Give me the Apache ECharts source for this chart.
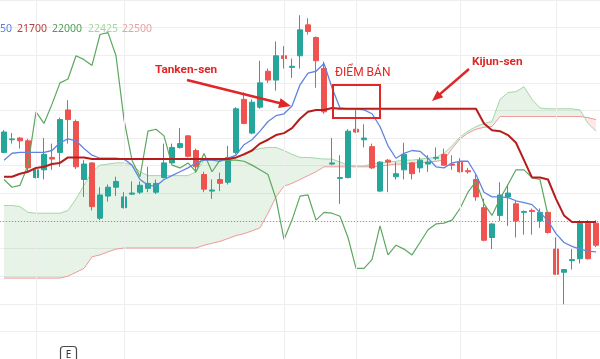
<!DOCTYPE html>
<html><head><meta charset="utf-8">
<script src="https://cdn.jsdelivr.net/npm/echarts@6/dist/echarts.min.js"></script>
<style>html,body{margin:0;padding:0;background:#fff}#c{width:600px;height:359px}</style>
</head><body><div id="c"></div>
<script>
// bar numbers (x categories)
const categories = Array.from({length: 75}, (_, i) => String(i + 1));
// candles: [open, close, low, high]
const candles = [
[22148,22222,22145,22229],[22194,22197,22180,22218],[22200,22190,22162,22204],[22190,22092,22075,22197],
[22057,22085,22054,22088],[22085,22141,22050,22200],[22130,22124,22085,22180],[22148,22267,22096,22274],
[22302,22267,22180,22337],[22260,22096,22088,22267],[22050,22106,21987,22120],[22110,21952,21938,22113],
[21910,21994,21903,22022],[21990,22022,21970,22032],[22022,22043,21990,22060],[21948,21987,21945,22004],
[21997,22001,21994,22043],[22004,22029,21997,22043],[22018,22036,22004,22096],[22004,22036,21997,22050],
[22057,22110,22054,22180],[22110,22166,22106,22180],[22166,22180,22162,22236],[22208,22134,22130,22211],
[22155,22096,22075,22162],[22068,22015,22004,22078],[22008,22012,21980,22050],[22050,22036,22008,22075],
[22040,22130,22032,22172],[22148,22306,22141,22312],[22340,22253,22250,22365],[22218,22330,22214,22340],
[22312,22400,22306,22480],[22442,22410,22400,22452],[22410,22498,22372,22550],[22498,22488,22452,22533],
[22456,22460,22418,22488],[22498,22592,22452,22645],[22610,22586,22575,22634],[22564,22480,22382,22568],
[22452,22295,22288,22477],[22106,22110,22102,22200],[22054,22057,21962,22138],[22057,22225,22054,22232],
[22232,22222,22218,22302],[22194,22200,22166,22250],[22169,22092,22088,22180],[22008,22113,22004,22116],
[22120,22113,22004,22124],[22060,22071,22050,22113],[22085,22141,22050,22183],[22110,22071,22050,22113],
[22092,22120,22075,22130],[22106,22113,22078,22138],[22127,22130,22120,22166],[22141,22102,22099,22162],
[22106,22102,22085,22138],[22113,22078,22075,22127],[22082,22078,22071,22092],[22050,21987,21973,22068],
[21948,21830,21826,21980],[21840,21889,21798,21892],[21920,21994,21900,22040],[21987,22001,21882,22032],
[21962,21900,21840,21973],[21931,21934,21850,21938],[21938,21934,21850,21945],[21900,21931,21875,21945],
[21931,21858,21854,21934],[21798,21707,21704,21840],[21714,21724,21598,21725],[21756,21760,21724,21798],
[21763,21892,21746,21903],[21892,21763,21760,21903],[21892,21812,21805,21903]
];
// Tenkan-sen (conversion line)
const tenkan = [22120,22145,22148,22148,22148,22148,22155,22183,22197,22190,
22162,22138,22127,22127,22127,22124,22102,22050,22029,22026,
22050,22064,22078,22092,22110,22120,22120,22116,22127,22138,
22176,22194,22225,22260,22281,22288,22316,22393,22435,22442,
22470,22382,22309,22306,22306,22302,22288,22242,22172,22127,
22145,22155,22152,22127,22096,22092,22110,22116,22116,22068,
22004,21987,21987,21984,21973,21966,21959,21931,21900,21854,
21822,21808,21798,21791,21788];
// Kijun-sen (base line)
const kijun = [22060,22060,22071,22078,22092,22096,22106,22110,22130,22130,
22130,22124,22124,22124,22124,22124,22124,22124,22124,22124,
22124,22124,22124,22124,22124,22124,22124,22124,22124,22130,
22141,22155,22180,22194,22211,22218,22236,22270,22295,22302,
22302,22309,22306,22306,22306,22306,22306,22306,22306,22306,
22306,22306,22306,22306,22306,22306,22306,22306,22306,22306,
22253,22228,22225,22211,22183,22120,22057,22057,22050,21980,
21920,21896,21896,21896,21896];
// Senkou span A (lead 1)
const spanA = [21956,21956,21952,21931,21928,21928,21928,21928,21938,21980,
22029,22078,22102,22106,22110,22110,22102,22078,22064,22064,
22064,22064,22064,22064,22078,22120,22120,22120,22120,22127,
22145,22155,22162,22166,22166,22155,22141,22130,22130,22127,
22124,22124,22113,22102,22099,22099,22106,22110,22113,22116,
22120,22120,22124,22127,22130,22145,22172,22204,22225,22242,
22253,22260,22340,22365,22368,22386,22340,22309,22306,22306,
22306,22306,22302,22253,22225];
// Senkou span B (lead 2)
const spanB = [21693,21693,21693,21693,21693,21693,21693,21693,21700,21714,
21728,21770,21777,21788,21798,21802,21802,21802,21802,21802,
21802,21802,21802,21802,21802,21812,21819,21826,21836,21847,
21854,21864,21875,21928,21987,22026,22036,22050,22064,22078,
22096,22096,22096,22096,22096,22096,22096,22099,22102,22106,
22106,22110,22110,22113,22116,22120,22162,22197,22218,22232,
22239,22242,22278,22278,22278,22278,22278,22278,22278,22278,
22278,22278,22278,22274,22267];
// Chikou span (lagging span)
const chikou = [22050,22022,22029,22102,22295,22253,22323,22400,22414,22498,
22484,22463,22575,22582,22498,22267,22120,22060,22225,22232,
22208,22102,22092,22110,22078,22144,22078,22120,22120,22120,
22116,22102,22085,22068,21980,21833,21903,21990,21994,21903,
21931,21928,21917,21840,21728,21728,21760,21882,21777,21812,
21798,21777,21822,21868,21889,21892,21903,21945,22004,22043,
21962,21920,21980,22032,22085,22085,22057,22050,21920,null,
null,null,null,null,null];
const lastPrice = 21900;
const timeGridBars = ['5','16','36','45','58','70'];
const legendValues = ['50','21700','22000','22425','22500'];

const GREEN_FILL = 'rgba(67,160,71,0.13)';
const RED_FILL = 'rgba(244,67,54,0.12)';

function cloudRender(params, api) {
  if (params.dataIndex !== 0) return null;
  const n = categories.length;
  const polys = [];
  let curA = [], curB = [], sign = null;
  for (let i = 0; i < n; i++) {
    const d = spanA[i] - spanB[i];
    const s = d >= 0 ? 1 : -1;
    const pa = api.coord([i, spanA[i]]), pb = api.coord([i, spanB[i]]);
    if (sign !== null && s !== sign) {
      const dp = spanA[i - 1] - spanB[i - 1];
      const t = dp / (dp - d);
      const pa0 = api.coord([i - 1, spanA[i - 1]]);
      const ip = [pa0[0] + (pa[0] - pa0[0]) * t, pa0[1] + (pa[1] - pa0[1]) * t];
      curA.push(ip);
      polys.push({s: sign, pts: curA.concat(curB.slice().reverse())});
      curA = [ip]; curB = [];
    }
    curA.push(pa); curB.push(pb); sign = s;
  }
  polys.push({s: sign, pts: curA.concat(curB.slice().reverse())});
  return {type: 'group', children: polys.map(p => ({
    type: 'polygon', shape: {points: p.pts}, style: {fill: p.s > 0 ? GREEN_FILL : RED_FILL}
  }))};
}

function arrow(tail, tip, len, half, color, w) {
  const dx = tip[0] - tail[0], dy = tip[1] - tail[1];
  const L = Math.hypot(dx, dy), ux = dx / L, uy = dy / L;
  const bx = tip[0] - ux * len, by = tip[1] - uy * len;
  return [
    {type: 'line', shape: {x1: tail[0], y1: tail[1], x2: bx + ux * 2, y2: by + uy * 2}, style: {stroke: color, lineWidth: w}, z: 100},
    {type: 'polygon', shape: {points: [tip, [bx - uy * half, by + ux * half], [bx + uy * half, by - ux * half]]}, style: {fill: color}, z: 100}
  ];
}

const legendColors = ['#5b7fd9', '#b5403f', '#4e9e57', '#a6d4a6', '#eaa3a3'];
const legendX = [0, 17, 52, 88, 122];
const RED = '#e02626';

const chart = echarts.init(document.getElementById('c'), null, {renderer: 'canvas'});
chart.setOption({
  animation: false,
  backgroundColor: '#ffffff',
  grid: {left: -1.05, right: -6.45, top: -5.714, bottom: -6.714, containLabel: false},
  xAxis: {type: 'category', data: categories, boundaryGap: true,
    axisLine: {show: false}, axisTick: {show: false}, axisLabel: {show: false}, splitLine: {show: false}},
  yAxis: {type: 'value', min: 21400, max: 22700, interval: 100, scale: true,
    axisLine: {show: false}, axisTick: {show: false}, axisLabel: {show: false},
    splitLine: {show: true, lineStyle: {color: '#eeeeee', width: 1}}},
  series: [
    {type: 'custom', name: 'cloud', renderItem: cloudRender, silent: true, z: 1,
      data: categories.map((c, i) => [i, spanA[i], spanB[i]]), encode: {x: 0, y: [1, 2]}},
    {type: 'line', name: 'Lead 2', data: spanB, symbol: 'none', silent: true, z: 2,
      lineStyle: {color: '#ef9a9a', width: 1}, itemStyle: {color: '#ef9a9a'},
      markLine: {silent: true, symbol: ['none', 'none'], label: {show: false},
        lineStyle: {color: '#eeeeee', width: 1, type: 'solid'},
        data: timeGridBars.map(b => ({xAxis: b}))}},
    {type: 'line', name: 'Lead 1', data: spanA, symbol: 'none', silent: true, z: 2,
      lineStyle: {color: '#a5d6a7', width: 1}, itemStyle: {color: '#a5d6a7'}},
    {type: 'candlestick', name: 'price', data: candles, barWidth: 5.8, z: 3, silent: true,
      itemStyle: {color: '#26a69a', color0: '#ef5350', borderColor: '#26a69a', borderColor0: '#ef5350', borderWidth: 1},
      markLine: {silent: true, symbol: ['none', 'none'], label: {show: false},
        lineStyle: {color: '#ef5350', width: 1, type: [1, 2], opacity: 0.8},
        data: [{yAxis: lastPrice}]}},
    {type: 'line', name: 'Lagging', data: chikou, symbol: 'none', silent: true, z: 4, connectNulls: false,
      lineStyle: {color: '#5ca85f', width: 1.2}, itemStyle: {color: '#5ca85f'}},
    {type: 'line', name: 'Conversion', data: tenkan, symbol: 'none', silent: true, z: 5,
      lineStyle: {color: '#6284e0', width: 1.3}, itemStyle: {color: '#6284e0'}},
    {type: 'line', name: 'Base', data: kijun, symbol: 'none', silent: true, z: 6,
      lineStyle: {color: '#b71c1c', width: 2}, itemStyle: {color: '#b71c1c'}}
  ],
  graphic: [
    ...legendValues.map((v, i) => ({type: 'text', x: legendX[i], y: 29, z: 100,
      style: {text: v, fill: legendColors[i], font: '10.5px "Noto Sans", sans-serif', textVerticalAlign: 'middle'}})),
    {type: 'text', x: 155, y: 70, z: 100, style: {text: 'Tanken-sen', fill: RED, font: 'bold 11.8px Roboto, sans-serif', textVerticalAlign: 'middle'}},
    {type: 'text', x: 335, y: 73, z: 100, style: {text: 'ĐIỂM BÁN', fill: RED, font: '12px Roboto, sans-serif', textVerticalAlign: 'middle'}},
    {type: 'text', x: 472, y: 62, z: 100, style: {text: 'Kijun-sen', fill: RED, font: 'bold 11.8px Roboto, sans-serif', textVerticalAlign: 'middle'}},
    {type: 'rect', shape: {x: 333, y: 85, width: 47, height: 33}, style: {fill: 'none', stroke: RED, lineWidth: 2}, z: 100},
    ...arrow([187, 80], [291, 106], 12, 5, RED, 2.5),
    ...arrow([469, 69], [432, 101], 11, 4.5, RED, 2.5),
    {type: 'rect', shape: {x: 60.5, y: 346.5, width: 16, height: 16, r: 3}, style: {fill: '#ffffff', stroke: '#4a4a4a', lineWidth: 1.2}, z: 100},
    {type: 'text', x: 68.5, y: 355, z: 101, style: {text: 'E', fill: '#333333', font: '10px "Noto Sans", sans-serif', textAlign: 'center', textVerticalAlign: 'middle'}}
  ]
});
</script></body></html>
